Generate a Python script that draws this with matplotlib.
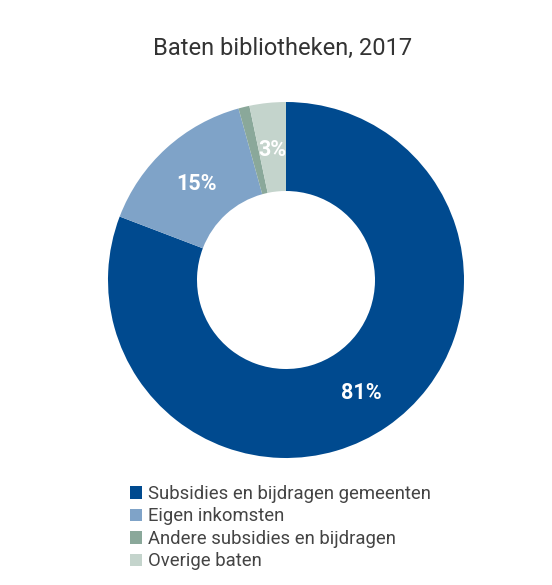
import matplotlib
matplotlib.use("Agg")
import matplotlib.pyplot as plt
from matplotlib.patches import Patch
import numpy as np

title = "Baten bibliotheken, 2017"
categories = ["Subsidies en bijdragen gemeenten", "Eigen inkomsten",
              "Andere subsidies en bijdragen", "Overige baten"]
values = [80.8, 14.9, 1.0, 3.3]
labels = ["81%", "15%", "", "3%"]
colors = ["#004a8f", "#7fa3c8", "#8aa89a", "#c4d4cc"]

plt.rcParams['font.family'] = ['Roboto', 'DejaVu Sans']

W, H = 552, 585
fig = plt.figure(figsize=(W / 100, H / 100), dpi=100)
fig.patch.set_facecolor("white")

cx, cy, R = 286, 280, 178
ax = fig.add_axes([(cx - R) / W, (H - cy - R) / H, 2 * R / W, 2 * R / H])
wedges, _ = ax.pie(values, colors=colors, startangle=90, counterclock=False,
                   radius=1.0, wedgeprops=dict(width=0.5, linewidth=0))
total = sum(values)
ang = 90.0
for v, lab in zip(values, labels):
    mid = ang - v / total * 360 / 2
    ang -= v / total * 360
    if lab:
        r = 0.75
        ax.text(r * np.cos(np.radians(mid)), r * np.sin(np.radians(mid)) - 0.015, lab,
                ha="center", va="center", color="white", fontsize=15.5,
                fontweight="bold")
ax.set_xlim(-1, 1)
ax.set_ylim(-1, 1)
ax.set_aspect("equal")
ax.axis("off")

fig.text(cx / W - 3 / W, 1 - 48 / H, title, ha="center", va="center",
         fontsize=17, color="#333333")

handles = [Patch(facecolor=c, edgecolor="none") for c in colors]
fig.legend(handles, categories, loc="upper left",
           bbox_to_anchor=(130 / W, 1 - 485 / H), frameon=False,
           fontsize=13.3, handlelength=0.65, handleheight=0.65,
           handletextpad=0.3, labelspacing=0.24, borderpad=0,
           borderaxespad=0, labelcolor="#444444")

fig.savefig("out.png", dpi=100, facecolor="white")
